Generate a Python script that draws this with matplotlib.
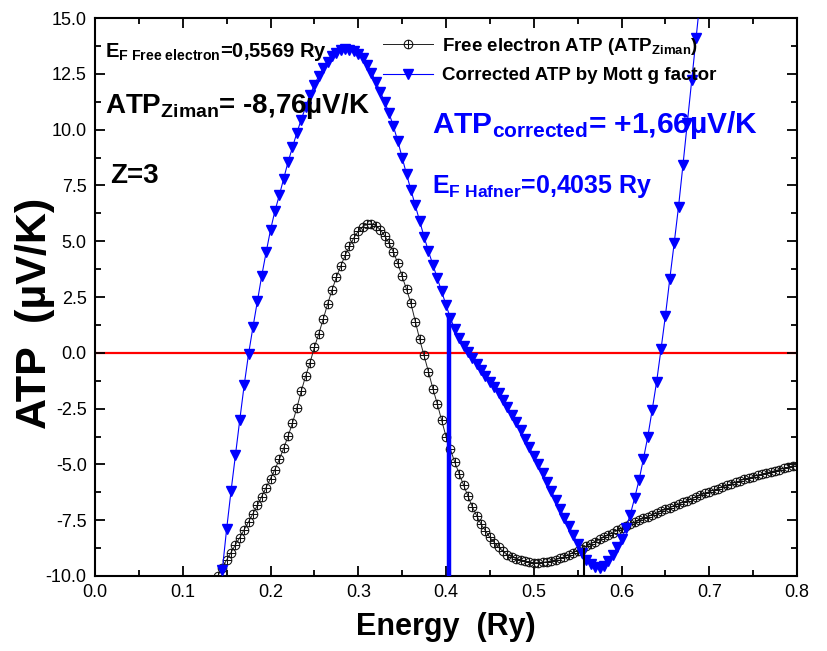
import numpy as np
import matplotlib
matplotlib.use('Agg')
import matplotlib.pyplot as plt
from matplotlib.path import Path
from matplotlib.ticker import MultipleLocator, FormatStrFormatter

plt.rcParams['font.family'] = 'Liberation Sans'
plt.rcParams['mathtext.fontset'] = 'custom'
plt.rcParams['mathtext.rm'] = 'Liberation Sans'
plt.rcParams['mathtext.bf'] = 'Liberation Sans:bold'
plt.rcParams['mathtext.it'] = 'Liberation Sans:italic'
plt.rcParams['axes.unicode_minus'] = False

# free electron ATP, energy 0.140 .. 0.800 Ry, step 0.005
E_FREE_START = 0.140
atp_free = [
    -10.00, -9.62, -9.28, -8.95, -8.60, -8.28, -7.93, -7.57, -7.20, -6.84,
    -6.44, -6.05, -5.65, -5.23, -4.78, -4.28, -3.74, -3.15, -2.48, -1.72,
    -1.05, -0.45, 0.25, 0.85, 1.50, 2.17, 2.80, 3.38, 3.88, 4.36,
    4.78, 5.15, 5.45, 5.65, 5.76, 5.78, 5.70, 5.52, 5.25, 4.92,
    4.52, 4.02, 3.42, 2.85, 2.22, 1.40, 0.60, -0.12, -0.85, -1.60,
    -2.28, -3.02, -3.75, -4.32, -4.90, -5.42, -5.92, -6.42, -6.90, -7.30,
    -7.68, -7.98, -8.27, -8.50, -8.72, -8.90, -9.04, -9.14, -9.22, -9.28,
    -9.34, -9.38, -9.40, -9.40, -9.39, -9.36, -9.32, -9.27, -9.21, -9.13,
    -9.05, -8.95, -8.86, -8.77, -8.67, -8.56, -8.46, -8.36, -8.26, -8.16,
    -8.06, -7.96, -7.87, -7.78, -7.69, -7.60, -7.51, -7.42, -7.34, -7.26,
    -7.18, -7.10, -7.02, -6.94, -6.86, -6.78, -6.70, -6.62, -6.54, -6.46,
    -6.38, -6.30, -6.22, -6.15, -6.08, -6.01, -5.94, -5.87, -5.80, -5.73,
    -5.67, -5.61, -5.55, -5.49, -5.43, -5.38, -5.33, -5.28, -5.23, -5.18,
    -5.13, -5.09, -5.05,
]

# ATP corrected by the Mott g factor, energy 0.145 .. 0.690 Ry, step 0.005
E_CORR_START = 0.145
atp_corr = [
    -9.75, -7.90, -6.20, -4.60, -3.00, -1.45, -0.05, 1.15, 2.30, 3.45,
    4.50, 5.50, 6.35, 7.05, 7.80, 8.55, 9.20, 9.85, 10.45, 11.00,
    11.55, 12.00, 12.40, 12.75, 13.05, 13.28, 13.45, 13.55, 13.60, 13.57,
    13.50, 13.40, 13.20, 12.90, 12.55, 12.15, 11.70, 11.25, 10.75, 10.15,
    9.50, 8.75, 8.00, 7.30, 6.60, 5.90, 5.20, 4.55, 3.95, 3.35,
    2.75, 2.15, 1.55, 1.05, 0.65, 0.32, 0.02, -0.25, -0.52, -0.78,
    -1.03, -1.29, -1.55, -1.80, -2.10, -2.45, -2.80, -3.12, -3.48, -3.86,
    -4.24, -4.62, -5.00, -5.40, -5.80, -6.20, -6.60, -7.00, -7.38, -7.76,
    -8.15, -8.58, -8.98, -9.28, -9.48, -9.60, -9.65, -9.55, -9.32, -9.05,
    -8.72, -8.35, -7.85, -7.25, -6.50, -5.70, -4.75, -3.75, -2.55, -1.30,
    0.15, 1.65, 3.30, 4.90, 6.55, 8.40, 10.30, 12.20, 14.10, 16.00,
]
E_STEP = 0.005

EF_FREE = 0.5569      # Ry
ATP_ZIMAN = -8.76     # uV/K
EF_HAFNER = 0.4035    # Ry
ATP_CORRECTED = 1.66  # uV/K
Z = 3

e_free = E_FREE_START + E_STEP * np.arange(len(atp_free))
e_corr = E_CORR_START + E_STEP * np.arange(len(atp_corr))


def comma(v, nd):
    return f'{v:.{nd}f}'.replace('.', ',')


# circle with a cross inside
oplus = Path.make_compound_path(
    Path.unit_circle(),
    Path([(-1, 0), (1, 0)], [Path.MOVETO, Path.LINETO]),
    Path([(0, -1), (0, 1)], [Path.MOVETO, Path.LINETO]),
)

fig = plt.figure(figsize=(8.27, 6.51), dpi=100)
ax = fig.add_axes([95 / 827, 75 / 651, 702 / 827, 558 / 651])

ax.axhline(0, color='red', lw=1.6, zorder=1)
ax.plot(e_free, atp_free, color='#222222', lw=0.7, marker=oplus, ms=6.2,
        mfc='none', mec='#111111', mew=0.75, zorder=2,
        label=r'Free electron ATP (ATP$_{\mathbf{Ziman}}$)')
ax.plot(e_corr, atp_corr, color='blue', lw=0.8, marker='v', ms=7,
        mfc='blue', mec='blue', zorder=3,
        label='Corrected ATP by Mott g factor')
ax.vlines(EF_HAFNER, -10, ATP_CORRECTED, color='blue', lw=3.2, zorder=4)
ax.vlines(EF_FREE, -10, ATP_ZIMAN, color='black', lw=1.5, zorder=4)

ax.set_xlim(0.0, 0.8)
ax.set_ylim(-10, 15)
ax.xaxis.set_major_locator(MultipleLocator(0.1))
ax.xaxis.set_minor_locator(MultipleLocator(0.05))
ax.yaxis.set_major_locator(MultipleLocator(2.5))
ax.yaxis.set_minor_locator(MultipleLocator(1.25))
ax.xaxis.set_major_formatter(FormatStrFormatter('%.1f'))
ax.yaxis.set_major_formatter(FormatStrFormatter('%.1f'))
ax.tick_params(which='both', direction='in', top=True, right=True, width=1.3)
ax.tick_params(which='major', length=7, labelsize=13, pad=6)
ax.tick_params(which='minor', length=4)
for s in ax.spines.values():
    s.set_linewidth(1.5)

ax.set_xlabel('Energy  (Ry)', fontsize=22, fontweight='bold')
ax.xaxis.set_label_coords(0.5, -0.064)
ax.set_ylabel('ATP  (\u00b5V/K)', fontsize=31, fontweight='bold', va='center')
ax.yaxis.set_label_coords(-0.085, 0.47)

ax.legend(loc='upper left', bbox_to_anchor=(0.41, 0.968), frameon=False,
          prop={'size': 13.5, 'weight': 'bold'}, handlelength=2.7,
          handletextpad=0.45, labelspacing=0.55, borderpad=0, numpoints=1,
          borderaxespad=0)

ax.text(0.0142, 0.930,
        r'$\mathbf{E}_{\mathbf{F\ Free\ electron}}$' + '=' + comma(EF_FREE, 4) + ' Ry',
        transform=ax.transAxes, fontsize=14.5, fontweight='bold', va='baseline')
ax.text(0.0142, 0.830,
        r'$\mathbf{ATP}_{\mathbf{Ziman}}$' + '= ' + comma(ATP_ZIMAN, 2) + '\u00b5V/K',
        transform=ax.transAxes, fontsize=20, fontweight='bold', va='baseline')
ax.text(0.021, 0.704, f'Z={Z}', transform=ax.transAxes, fontsize=20,
        fontweight='bold', va='baseline')
ax.text(0.480, 0.794,
        r'$\mathbf{ATP}_{\mathbf{corrected}}$' + '= +' + comma(ATP_CORRECTED, 2) + '\u00b5V/K',
        transform=ax.transAxes, fontsize=21.5, fontweight='bold', va='baseline',
        color='blue')
ax.text(0.480, 0.686,
        r'$\mathbf{E}_{\mathbf{F\ Hafner}}$' + '=' + comma(EF_HAFNER, 4) + ' Ry',
        transform=ax.transAxes, fontsize=18, fontweight='bold', va='baseline',
        color='blue')

fig.savefig('out.png', dpi=100)
